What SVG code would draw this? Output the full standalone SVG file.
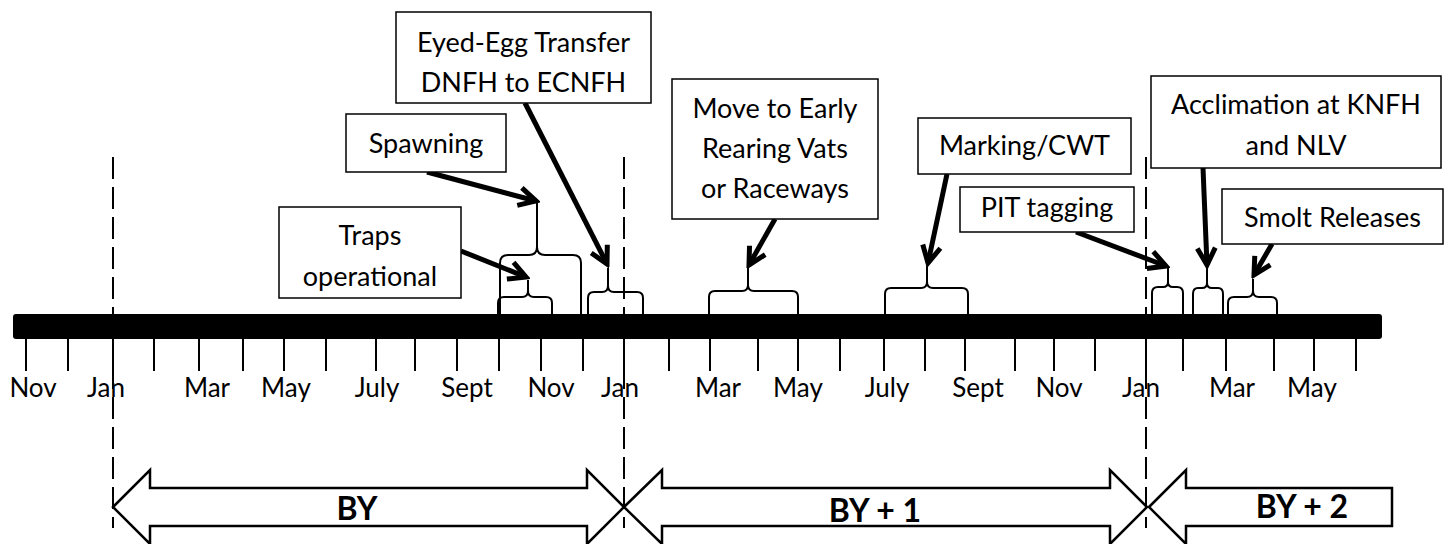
<svg xmlns="http://www.w3.org/2000/svg" width="1450" height="544" viewBox="0 0 1450 544">
<defs>
<style>
.box{fill:#fff;stroke:#000;stroke-width:1.5}
.lbl{font-family:Lato,"Liberation Sans",sans-serif;font-size:27px;fill:#000;text-anchor:middle}
.mon{font-family:Lato,"Liberation Sans",sans-serif;font-size:26px;fill:#000;text-anchor:middle}
.by{font-family:Lato,"Liberation Sans",sans-serif;font-size:32px;font-weight:bold;fill:#000;text-anchor:middle}
.tick{stroke:#000;stroke-width:2}
.dash{stroke:#000;stroke-width:2;stroke-dasharray:22 8}
.brace{fill:none;stroke:#000;stroke-width:2}
.conn{fill:none;stroke:#000;stroke-width:5;marker-end:url(#ah)}
.blk{fill:#fff;stroke:#000;stroke-width:2.5;stroke-linejoin:miter}
</style>
<marker id="ah" markerUnits="userSpaceOnUse" viewBox="-24 -14 28 28" refX="0" refY="0" markerWidth="28" markerHeight="28" orient="auto">
<path d="M -17 -9 L 0 0 L -17 9" fill="none" stroke="#000" stroke-width="5"/>
</marker>
</defs>
<rect width="1450" height="544" fill="#fff"/>

<g id="dashed-lines">
<line class="dash" x1="113" y1="157" x2="113" y2="528"/>
<line class="dash" x1="624" y1="157" x2="624" y2="528"/>
<line class="dash" x1="1146" y1="157" x2="1146" y2="528"/>
</g>

<g id="timeline">
<rect x="13" y="314" width="1369" height="25" rx="3" fill="#000"/>
<g class="tick">
<line x1="26" y1="339" x2="26" y2="371"/><line x1="68" y1="339" x2="68" y2="371"/><line x1="113" y1="339" x2="113" y2="371"/><line x1="154" y1="339" x2="154" y2="371"/><line x1="199" y1="339" x2="199" y2="371"/><line x1="243" y1="339" x2="243" y2="371"/><line x1="284" y1="339" x2="284" y2="371"/><line x1="326" y1="339" x2="326" y2="371"/><line x1="376" y1="339" x2="376" y2="371"/><line x1="415" y1="339" x2="415" y2="371"/><line x1="457" y1="339" x2="457" y2="371"/><line x1="499" y1="339" x2="499" y2="371"/><line x1="541" y1="339" x2="541" y2="371"/><line x1="583" y1="339" x2="583" y2="371"/><line x1="624" y1="339" x2="624" y2="371"/><line x1="669" y1="339" x2="669" y2="371"/><line x1="710" y1="339" x2="710" y2="371"/><line x1="758" y1="339" x2="758" y2="371"/><line x1="798" y1="339" x2="798" y2="371"/><line x1="840" y1="339" x2="840" y2="371"/><line x1="884" y1="339" x2="884" y2="371"/><line x1="925" y1="339" x2="925" y2="371"/><line x1="965" y1="339" x2="965" y2="371"/><line x1="1015" y1="339" x2="1015" y2="371"/><line x1="1054" y1="339" x2="1054" y2="371"/><line x1="1095" y1="339" x2="1095" y2="371"/><line x1="1146" y1="339" x2="1146" y2="371"/><line x1="1183" y1="339" x2="1183" y2="371"/><line x1="1226" y1="339" x2="1226" y2="371"/><line x1="1274" y1="339" x2="1274" y2="371"/><line x1="1314" y1="339" x2="1314" y2="371"/><line x1="1356" y1="339" x2="1356" y2="371"/>
</g>
<g class="mon">
<text x="33" y="397">Nov</text><text x="106" y="397">Jan</text><text x="207" y="397">Mar</text><text x="286" y="397">May</text><text x="377" y="397">July</text><text x="467" y="397">Sept</text><text x="551" y="397">Nov</text><text x="620" y="397">Jan</text><text x="718" y="397">Mar</text><text x="798" y="397">May</text><text x="887" y="397">July</text><text x="978" y="397">Sept</text><text x="1059" y="397">Nov</text><text x="1141" y="397">Jan</text><text x="1232" y="397">Mar</text><text x="1312" y="397">May</text>
</g>
</g>

<g id="braces" class="brace">
<path d="M500,314 L500,263 Q500,255 508,255 L529,255 Q537,255 537,247 L537,203 M537,247 Q537,255 545,255 L573,255 Q581,255 581,263 L581,314"/>
<path d="M498,314 L498,303 Q498,297 504,297 L522,297 Q528,297 528,291 L528,280 M528,291 Q528,297 534,297 L546,297 Q552,297 552,303 L552,314"/>
<path d="M588,314 L588,298 Q588,292 594,292 L602,292 Q608,292 608,286 L608,268 M608,286 Q608,292 614,292 L637,292 Q643,292 643,298 L643,314"/>
<path d="M709,314 L709,297 Q709,291 715,291 L742,291 Q748,291 748,285 L748,268 M748,285 Q748,291 754,291 L792,291 Q798,291 798,297 L798,314"/>
<path d="M885,314 L885,294 Q885,288 891,288 L921,288 Q927,288 927,282 L927,266 M927,282 Q927,288 933,288 L962,288 Q968,288 968,294 L968,314"/>
<path d="M1152,314 L1152,293 Q1152,287 1158,287 L1163,287 Q1168,287 1168,282 L1168,268 M1168,282 Q1168,287 1173,287 L1177,287 Q1183,287 1183,293 L1183,314"/>
<path d="M1193,314 L1193,294 Q1193,288 1198,288 L1202,288 Q1207,288 1207,283 L1207,268 M1207,283 Q1207,288 1212,288 L1218,288 Q1223,288 1223,294 L1223,314"/>
<path d="M1228,314 L1228,303 Q1228,297 1234,297 L1247,297 Q1253,297 1253,291 L1253,279 M1253,291 Q1253,297 1259,297 L1271,297 Q1277,297 1277,303 L1277,314"/>
</g>

<g id="connectors">
<line class="conn" x1="427" y1="172" x2="536" y2="201"/>
<line class="conn" x1="525" y1="103" x2="607" y2="264"/>
<line class="conn" x1="461" y1="251" x2="526" y2="277"/>
<line class="conn" x1="775" y1="219" x2="749" y2="265"/>
<line class="conn" x1="947" y1="174" x2="928" y2="263"/>
<line class="conn" x1="1076" y1="232" x2="1166" y2="266"/>
<line class="conn" x1="1203" y1="168" x2="1207" y2="265"/>
<line class="conn" x1="1272" y1="244" x2="1254" y2="275"/>
</g>

<g id="eyed-egg-transfer">
<rect class="box" x="396" y="12" width="255" height="91"/>
<text class="lbl" x="523.5" y="52">Eyed-Egg Transfer</text>
<text class="lbl" x="523.5" y="92">DNFH to ECNFH</text>
</g>
<g id="spawning">
<rect class="box" x="346" y="114" width="160" height="58"/>
<text class="lbl" x="426" y="153">Spawning</text>
</g>
<g id="traps-operational">
<rect class="box" x="279" y="207" width="182" height="91"/>
<text class="lbl" x="370" y="245">Traps</text>
<text class="lbl" x="370" y="286">operational</text>
</g>
<g id="move-to-early-rearing">
<rect class="box" x="672" y="79" width="206" height="140"/>
<text class="lbl" x="775" y="118">Move to Early</text>
<text class="lbl" x="775" y="158">Rearing Vats</text>
<text class="lbl" x="775" y="198">or Raceways</text>
</g>
<g id="marking-cwt">
<rect class="box" x="918" y="118" width="213" height="56"/>
<text class="lbl" x="1024.5" y="155">Marking/CWT</text>
</g>
<g id="acclimation">
<rect class="box" x="1151" y="76" width="290" height="92"/>
<text class="lbl" x="1296" y="114">Acclimation at KNFH</text>
<text class="lbl" x="1296" y="155">and NLV</text>
</g>
<g id="pit-tagging">
<rect class="box" x="960" y="187" width="174" height="45"/>
<text class="lbl" x="1047" y="217">PIT tagging</text>
</g>
<g id="smolt-releases">
<rect class="box" x="1222" y="189" width="221" height="55"/>
<text class="lbl" x="1332.5" y="227">Smolt Releases</text>
</g>

<g id="by">
<polygon class="blk" points="113,507 150,470 150,488 587,488 587,470 624,507 587,544 587,526 150,526 150,544"/>
<text class="by" x="357" y="520">BY</text>
</g>
<g id="by-plus-1">
<polygon class="blk" points="624,507 662,470 662,488 1110,488 1110,470 1147,507 1110,544 1110,526 662,526 662,544"/>
<text class="by" x="875" y="522">BY + 1</text>
</g>
<g id="by-plus-2">
<polygon class="blk" points="1149,507 1186,470 1186,488 1392,488 1392,526 1186,526 1186,544"/>
<text class="by" x="1302" y="518">BY + 2</text>
</g>
</svg>
